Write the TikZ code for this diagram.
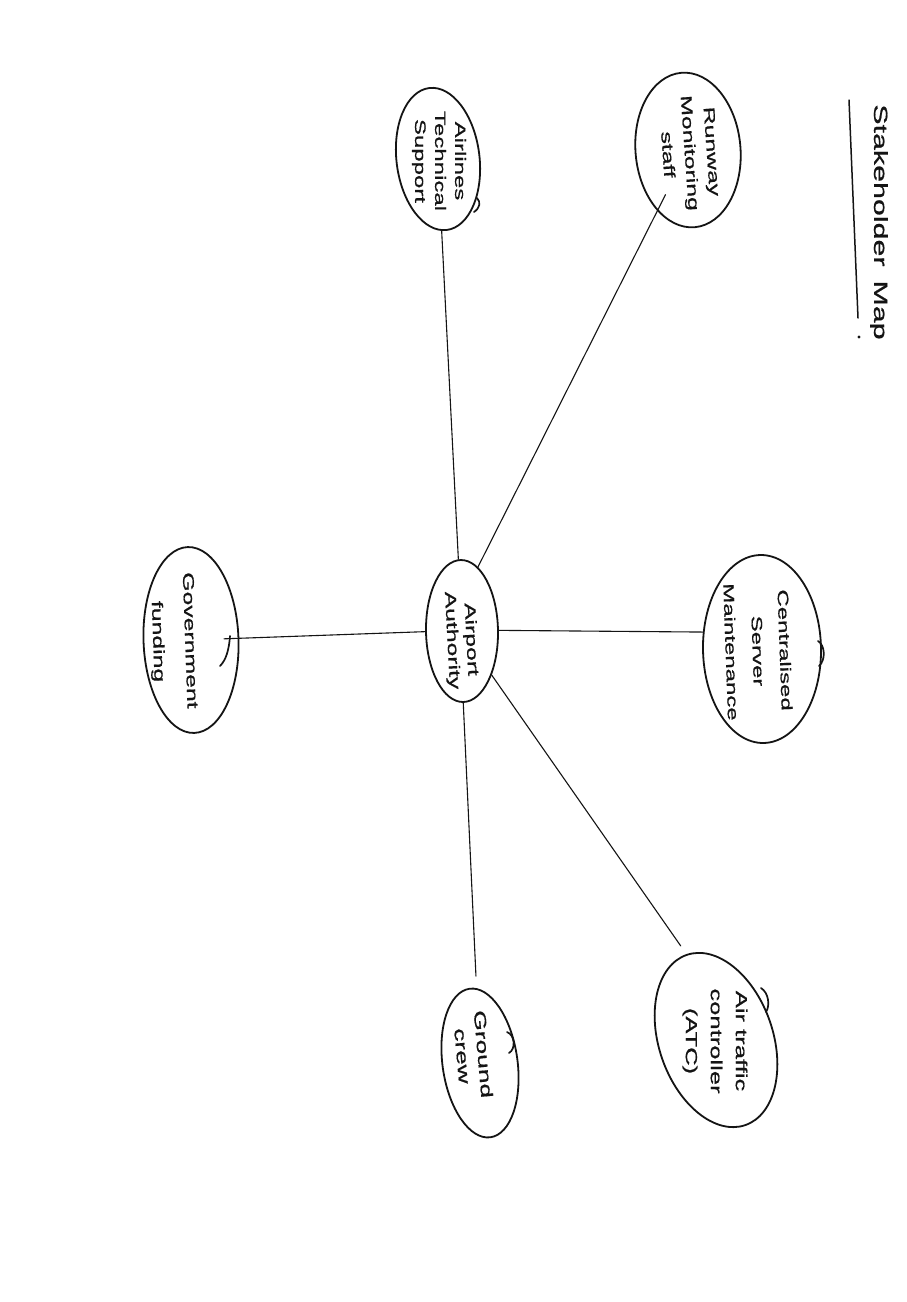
\documentclass[tikz,border=0pt]{standalone}
\usepackage{fontspec}
\newfontfamily\handfont[FakeStretch=1.6,FakeBold=0.8]{Liberation Sans}
\usetikzlibrary{shapes.geometric}
\definecolor{ink}{HTML}{141414}

\begin{document}
\begin{tikzpicture}[x=1pt,y=-1pt,
  party/.style={draw=ink, line width=1.8pt, ellipse, inner sep=0pt},
  hand/.style={text=ink, align=center, inner sep=0pt, rotate=-90,
               font=\handfont\fontsize{15.5}{19}\selectfont},
  link/.style={draw=ink, line width=1.1pt, line cap=round},
  curl/.style={draw=ink, line width=1.7pt, line cap=round}]
\fill[white] (0,0) rectangle (906,1302);
\useasboundingbox (0,0) rectangle (906,1302);

% title, written down the page, with its underline
\node[hand, font=\handfont\fontsize{19}{19}\selectfont] (title)
  at (879,222) {Stakeholder\hspace{14pt}Map};
\draw[link, line width=1.5pt] (849,100) -- (858,318);
\fill[ink] (859,337) circle (1.6pt);

% stakeholder bubbles
\node[party, minimum width=143pt, minimum height=83pt, rotate=-83] (at) at (438,159) {};
\node[party, minimum width=155pt, minimum height=105pt, rotate=-85] (rm) at (688,150) {};
\node[party, minimum width=186pt, minimum height=95pt, rotate=-88] (gf) at (191,640) {};
\node[party, minimum width=142pt, minimum height=72pt, rotate=-89] (aa) at (462,631) {};
\node[party, minimum width=188pt, minimum height=118pt, rotate=-89] (cs) at (762,649) {};
\node[party, minimum width=150pt, minimum height=75pt, rotate=-82] (gc) at (480,1063) {};
\node[party, minimum width=180pt, minimum height=114pt, rotate=-71] (atc) at (716,1040) {};

% bubble captions
\node[hand, font=\handfont\fontsize{15}{20}\selectfont] (at-t) at (439,161) {Airlines\\Technical\\Support};
\node[hand, rotate=4, font=\handfont\fontsize{15.5}{22}\selectfont] (rm-t) at (690,153) {Runway\\Monitoring\\staff};
\node[hand, rotate=2, font=\handfont\fontsize{15.5}{32}\selectfont] (gf-t) at (173,641) {Government\\funding};
\node[hand, rotate=3] (aa-t) at (461,640) {Airport\\Authority};
\node[hand, rotate=2, font=\handfont\fontsize{15}{27}\selectfont] (cs-t) at (758,651) {Centralised\\Server\\Maintenance};
\node[hand, rotate=5, font=\handfont\fontsize{16.5}{21}\selectfont] (gc-t) at (473,1055) {Ground\\crew};
\node[hand, font=\handfont\fontsize{16}{25}\selectfont] (atc-t) at (715,1041) {Air traffic\\controller\\(ATC)};

% pen overlaps where the bubbles were closed
\draw[curl] (477,198) .. controls (481,202) and (480,208) .. (474,212);
\draw[curl] (230,636) .. controls (229,650) and (226,660) .. (220,666);
\draw[curl] (818,641) .. controls (825,645) and (826,660) .. (819,666);
\draw[curl] (507,1032) .. controls (515,1035) and (516,1049) .. (509,1053);
\draw[curl] (761,988) .. controls (769,993) and (770,1006) .. (766,1012);

% links from the airport authority
\draw[link] (at) -- (aa);
\draw[link, shorten <=50pt] (rm.center) -- (aa.165);
\draw[link, shorten <=33pt] (gf.center) -- (aa.south);
\draw[link] (aa.north) -- (cs.-107);
\draw[link, shorten >=12pt] (aa.east) -- (gc);
\draw[link, shorten >=10pt] (aa.33) -- (atc.west);
\end{tikzpicture}
\end{document}
